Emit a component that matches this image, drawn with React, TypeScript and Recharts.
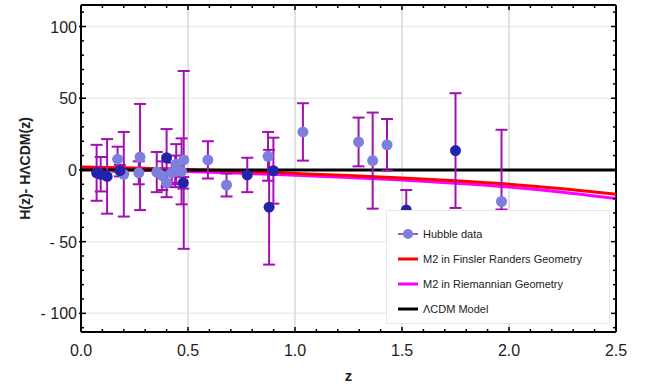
import {
  ComposedChart,
  ErrorBar,
  Line,
  ReferenceLine,
  Scatter,
  XAxis,
  YAxis,
} from "recharts";

// Hubble data, plotted as H(z) - H_LCDM(z)
const lightZ = [0.171, 0.2, 0.27, 0.276, 0.354, 0.38, 0.4, 0.424, 0.445, 0.44, 0.48, 0.47, 0.593, 0.68, 0.874, 1.037, 1.297, 1.363, 1.43, 1.965];
const lightDH = [7.5, -3, -2, 9, -1.5, -4, -9, -2, 4, -1, 7, -1, 7, -10.5, 9.5, 26.5, 19.5, 6.5, 17.5, -22];
const lightErr: (number | number[])[] = [8.7, 29.5, 8, 37, 14, 10, 10, 7, 14, 11, 62, 23, 13, 8, 17, 20, 17, 33.5, 18, [5.6, 50]];

const darkZ = [0.073, 0.092, 0.122, 0.182, 0.4, 0.478, 0.777, 0.879, 0.899, 1.52, 1.75];
const darkDH = [-2, -3, -4.5, -0.5, 8.5, -9, -3.5, -26, -0.5, -28, 13.5];
const darkErr = [19.5, 12, 26, 4, 20, 4, 12, 40, 23, 14, 40];

// model curves
const modelZ = [0, 0.25, 0.5, 0.75, 1, 1.25, 1.5, 1.75, 2, 2.25, 2.5];
const finslerDH = [2, 1.3, 0.3, -0.9, -2.4, -3.9, -5.6, -7.6, -10, -13.2, -17];
const riemannDH = [0.8, -0.1, -1.1, -2.3, -3.7, -5.2, -7, -9.2, -11.9, -15.5, -20];
const lcdmDH = [0, 0, 0, 0, 0, 0, 0, 0, 0, 0, 0];

const xTicks = Array.from({ length: 26 }, (_, i) => i / 10);
const yTicks = Array.from({ length: 23 }, (_, i) => -110 + i * 10);
const xGrid = [0.5, 1, 1.5, 2];
const yGrid = [-100, -50, 50, 100];
const X_DOMAIN = [0, 2.5];
const Y_DOMAIN = [-113, 115];

const W = 648;
const H = 384;
const MARGIN = { top: 5, right: 32, bottom: 0, left: 0 };
const Y_AXIS_W = 81;
const X_AXIS_H = 52;
// plot box edges, used to mirror the tick marks on the top and right sides
const PLOT_TOP = MARGIN.top;
const PLOT_RIGHT = W - MARGIN.right;

const FONT = "'Liberation Sans', Arial, sans-serif";
const LIGHT = "#7c80dc";
const DARK = "#2222aa";
const BAR = "#a30fb3";

const lightPts = lightZ.map((z, i) => ({ z, y: lightDH[i], err: lightErr[i] }));
const darkPts = darkZ.map((z, i) => ({ z, y: darkDH[i], err: darkErr[i] }));
const allPts = [...lightPts, ...darkPts];
const finsler = modelZ.map((z, i) => ({ z, y: finslerDH[i] }));
const riemann = modelZ.map((z, i) => ({ z, y: riemannDH[i] }));
const lcdm = modelZ.map((z, i) => ({ z, y: lcdmDH[i] }));

const isMajor = (v: number, step: number) =>
  Math.abs(v / step - Math.round(v / step)) < 1e-6;

function XTick({ x, y, payload }: any) {
  const v = payload.value;
  const len = isMajor(v, 0.5) ? 5 : 3;
  return (
    <g>
      <line x1={x} x2={x} y1={y} y2={y - len} stroke="#000" strokeWidth={1.5} />
      <line x1={x} x2={x} y1={PLOT_TOP} y2={PLOT_TOP + len} stroke="#000" strokeWidth={1.5} />
      {len === 5 && (
        <text x={x} y={y + 24} textAnchor="middle" fontSize={16} fontFamily={FONT} fill="#222">
          {v.toFixed(1)}
        </text>
      )}
    </g>
  );
}

function YTick({ x, y, payload }: any) {
  const v = payload.value;
  const major = isMajor(v, 50);
  const len = major ? 5 : 3;
  return (
    <g>
      <line x1={x - (major ? 2 : 0)} x2={x + len} y1={y} y2={y} stroke="#000" strokeWidth={1.5} />
      <line x1={PLOT_RIGHT} x2={PLOT_RIGHT - len} y1={y} y2={y} stroke="#000" strokeWidth={1.5} />
      {major && (
        <text x={x - 4} y={y + 6} textAnchor="end" fontSize={16} fontFamily={FONT} fill="#222">
          {v < 0 ? `- ${Math.abs(v)}` : v}
        </text>
      )}
    </g>
  );
}

function YTitle({ viewBox }: any) {
  const cx = 25;
  const cy = viewBox.y + viewBox.height / 2;
  return (
    <text
      x={cx}
      y={cy}
      transform={`rotate(-90, ${cx}, ${cy})`}
      textAnchor="middle"
      dominantBaseline="central"
      fontSize={14}
      fontWeight="bold"
      fontFamily={FONT}
      fill="#222"
    >
      H(z)- HΛCDM(z)
    </text>
  );
}

function XTitle({ viewBox }: any) {
  return (
    <text
      x={viewBox.x + viewBox.width / 2}
      y={381}
      textAnchor="middle"
      fontSize={15}
      fontWeight="bold"
      fontFamily={FONT}
      fill="#222"
    >
      z
    </text>
  );
}

const legendItems = [
  { label: "Hubble data", color: BAR, marker: true },
  { label: "M2 in Finsler Randers Geometry", color: "#ff0000" },
  { label: "M2 in Riemannian Geometry", color: "#ff00ff" },
  { label: "ΛCDM Model", color: "#000000" },
];

function LegendBox() {
  return (
    <div
      style={{
        position: "absolute",
        left: 386,
        top: 210,
        background: "#fff",
        border: "1px solid #e6e6e6",
        width: 224,
        height: 114,
        boxSizing: "border-box",
        paddingTop: 10,
        fontFamily: FONT,
        fontSize: 11,
        color: "#222",
      }}
    >
      {legendItems.map((item) => (
        <div key={item.label} style={{ display: "flex", alignItems: "center", height: 25 }}>
          <svg width={24} height={12} style={{ marginLeft: 10, marginRight: 2 }}>
            <line x1={1} x2={21} y1={6} y2={6} stroke={item.color} strokeWidth={item.marker ? 1.5 : 3} />
            {item.marker && <circle cx={11} cy={6} r={5} fill={LIGHT} />}
          </svg>
          <span>{item.label}</span>
        </div>
      ))}
    </div>
  );
}

const dot = (fill: string) => (props: any) => (
  <circle cx={props.cx} cy={props.cy} r={5.5} fill={fill} />
);

export default function App() {
  return (
    <div style={{ position: "absolute", left: 0, top: 0, width: W, height: H, background: "#fff" }}>
      <ComposedChart width={W} height={H} margin={MARGIN}>
        <XAxis
          dataKey="z"
          type="number"
          domain={X_DOMAIN}
          ticks={xTicks}
          interval={0}
          allowDataOverflow
          height={X_AXIS_H}
          tickLine={false}
          tickSize={0}
          tickMargin={0}
          tick={<XTick />}
          axisLine={{ stroke: "#000", strokeWidth: 2 }}
          label={<XTitle />}
        />
        <YAxis
          dataKey="y"
          type="number"
          domain={Y_DOMAIN}
          ticks={yTicks}
          interval={0}
          allowDataOverflow
          width={Y_AXIS_W}
          tickLine={false}
          tickSize={0}
          tickMargin={0}
          tick={<YTick />}
          axisLine={{ stroke: "#000", strokeWidth: 2 }}
          label={<YTitle />}
        />

        {yGrid.map((v) => (
          <ReferenceLine key={`h${v}`} y={v} stroke="#ececec" strokeWidth={1.5} />
        ))}
        {xGrid.map((v) => (
          <ReferenceLine key={`v${v}`} x={v} stroke="#d9d9d9" strokeWidth={1.5} />
        ))}
        {/* frame edges on the top and right */}
        <ReferenceLine y={Y_DOMAIN[1]} stroke="#000" strokeWidth={2} />
        <ReferenceLine x={X_DOMAIN[1]} stroke="#000" strokeWidth={2} />

        <Line data={riemann} dataKey="y" type="monotone" stroke="#ff00ff" strokeWidth={3} dot={false} isAnimationActive={false} />
        <Line data={finsler} dataKey="y" type="monotone" stroke="#ff0000" strokeWidth={3} dot={false} isAnimationActive={false} />
        <Line data={lcdm} dataKey="y" type="linear" stroke="#000000" strokeWidth={3} dot={false} isAnimationActive={false} />

        <Scatter data={lightPts} dataKey="y" shape={dot(LIGHT)} isAnimationActive={false} />
        <Scatter data={darkPts} dataKey="y" shape={dot(DARK)} isAnimationActive={false} />
        {/* error bars drawn over the markers */}
        <Scatter data={allPts} dataKey="y" shape={() => <g />} isAnimationActive={false}>
          <ErrorBar dataKey="err" direction="y" width={6} stroke={BAR} strokeWidth={2} isAnimationActive={false} />
        </Scatter>
      </ComposedChart>
      <LegendBox />
    </div>
  );
}
